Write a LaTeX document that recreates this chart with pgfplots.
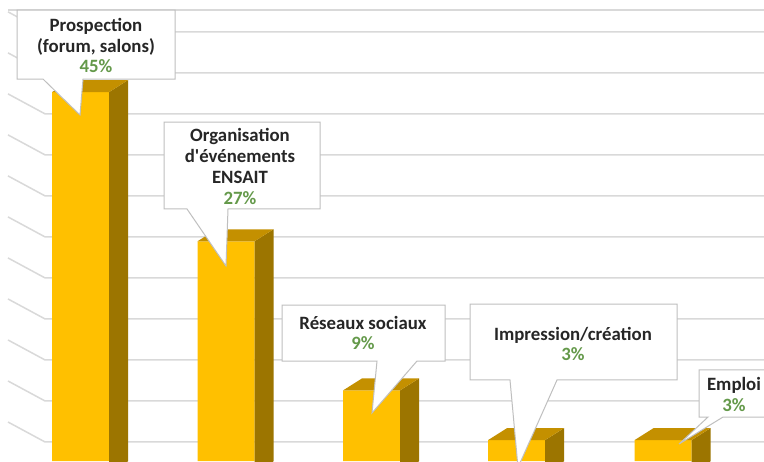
\documentclass[border=0pt]{standalone}
\usepackage{pgfplots}
\pgfplotsset{compat=1.18}
\usepackage{pgfplotstable}
\usepackage{fontspec}
\setmainfont{Carlito}[Ligatures=TeXOff]
\definecolor{gold}{HTML}{FFC000}
\definecolor{goldtop}{HTML}{C49000}
\definecolor{goldside}{HTML}{9C7500}
\definecolor{gridc}{HTML}{D9D9D9}
\definecolor{boxc}{HTML}{BFBFBF}
\definecolor{txt}{HTML}{262626}
\definecolor{pct}{HTML}{64994A}
\pgfplotstableread{
x v
80.5 45
226 27
371.5 9
516.5 3
663 3
}\bars
\begin{document}
\begin{tikzpicture}
\begin{axis}[
  width=382pt, height=230.5pt, scale only axis,
  xmin=0, xmax=764, ymin=0.483, ymax=56.12,
  xtick=\empty, ytick=\empty,
  axis line style={draw=none},
  axis background/.style={fill=white},
  clip=true,
]
% gridlines (back wall + side wall)
\addplot[gridc, line width=0.75pt] coordinates {(8,54.91) (764,54.91)};
\addplot[gridc, line width=0.75pt] coordinates {(8,54.69) (45,52.28) (764,52.28)};
\addplot[gridc, line width=0.75pt] coordinates {(8,49.74) (45,47.33) (764,47.33)};
\addplot[gridc, line width=0.75pt] coordinates {(8,44.79) (45,42.38) (764,42.38)};
\addplot[gridc, line width=0.75pt] coordinates {(8,39.84) (45,37.43) (764,37.43)};
\addplot[gridc, line width=0.75pt] coordinates {(8,34.89) (45,32.48) (764,32.48)};
\addplot[gridc, line width=0.75pt] coordinates {(8,29.94) (45,27.53) (764,27.53)};
\addplot[gridc, line width=0.75pt] coordinates {(8,24.99) (45,22.58) (764,22.58)};
\addplot[gridc, line width=0.75pt] coordinates {(8,20.04) (45,17.63) (764,17.63)};
\addplot[gridc, line width=0.75pt] coordinates {(8,15.09) (45,12.68) (764,12.68)};
\addplot[gridc, line width=0.75pt] coordinates {(8,10.14) (45,7.73) (764,7.73)};
\addplot[gridc, line width=0.75pt] coordinates {(8,5.19) (45,2.78) (764,2.78)};
% front faces
\addplot[ybar, bar width=57, fill=gold, draw=none] table[x=x, y=v] {\bars};
% side faces
\addplot[fill=goldside, draw=none] coordinates {(109,-1) (128,0.45) (128,46.45) (109,45)} --cycle;
\addplot[fill=goldside, draw=none] coordinates {(254.5,-1) (273.5,0.45) (273.5,28.45) (254.5,27)} --cycle;
\addplot[fill=goldside, draw=none] coordinates {(400,-1) (419,0.45) (419,10.45) (400,9)} --cycle;
\addplot[fill=goldside, draw=none] coordinates {(545,-1) (564,0.45) (564,4.45) (545,3)} --cycle;
\addplot[fill=goldside, draw=none] coordinates {(691.5,-1) (710.5,0.45) (710.5,4.45) (691.5,3)} --cycle;
% top faces
\addplot[fill=goldtop, draw=none] coordinates {(52,45) (109,45) (128,46.45) (71,46.45)} --cycle;
\addplot[fill=goldtop, draw=none] coordinates {(197.5,27) (254.5,27) (273.5,28.45) (216.5,28.45)} --cycle;
\addplot[fill=goldtop, draw=none] coordinates {(343,9) (400,9) (419,10.45) (362,10.45)} --cycle;
\addplot[fill=goldtop, draw=none] coordinates {(488,3) (545,3) (564,4.45) (507,4.45)} --cycle;
\addplot[fill=goldtop, draw=none] coordinates {(634.5,3) (691.5,3) (710.5,4.45) (653.5,4.45)} --cycle;
% callouts
\addplot[fill=white, draw=boxc, line width=0.5pt] coordinates {(17,54.91) (175,54.91) (175,46.58) (83,46.58) (80,42.24) (43,46.58) (17,46.58)} --cycle;
\addplot[fill=white, draw=boxc, line width=0.5pt] coordinates {(164,41.39) (320,41.39) (320,30.90) (228,30.90) (226,24.02) (187,30.90) (164,30.90)} --cycle;
\addplot[fill=white, draw=boxc, line width=0.5pt] coordinates {(282,19.31) (445,19.31) (445,12.55) (417,12.55) (372,6.28) (377,12.55) (282,12.55)} --cycle;
\addplot[fill=white, draw=boxc, line width=0.5pt] coordinates {(470,19.43) (677,19.43) (677,10.26) (557,10.26) (518,-0.3) (510,10.26) (470,10.26)} --cycle;
\addplot[fill=white, draw=boxc, line width=0.5pt] coordinates {(699,11.47) (790,11.47) (790,5.79) (723,5.79) (679,2.53) (708,5.79) (699,5.79)} --cycle;
% texts
\begin{scope}[every node/.style={font=\fontsize{9.4}{10.4}\selectfont\bfseries, text=txt, align=center, inner sep=0pt}]
\node at (axis cs:96,50.63) {Prospection\\(forum, salons)\\\textcolor{pct}{45\%}};
\node at (axis cs:240,36.02) {Organisation\\d'événements\\ENSAIT\\\textcolor{pct}{27\%}};
\node at (axis cs:363,15.93) {Réseaux sociaux\\\textcolor{pct}{9\%}};
\node at (axis cs:573,14.60) {Impression/création\\\textcolor{pct}{3\%}};
\node at (axis cs:734,8.51) {Emploi\\\textcolor{pct}{3\%}};
\end{scope}
\end{axis}
\end{tikzpicture}
\end{document}
